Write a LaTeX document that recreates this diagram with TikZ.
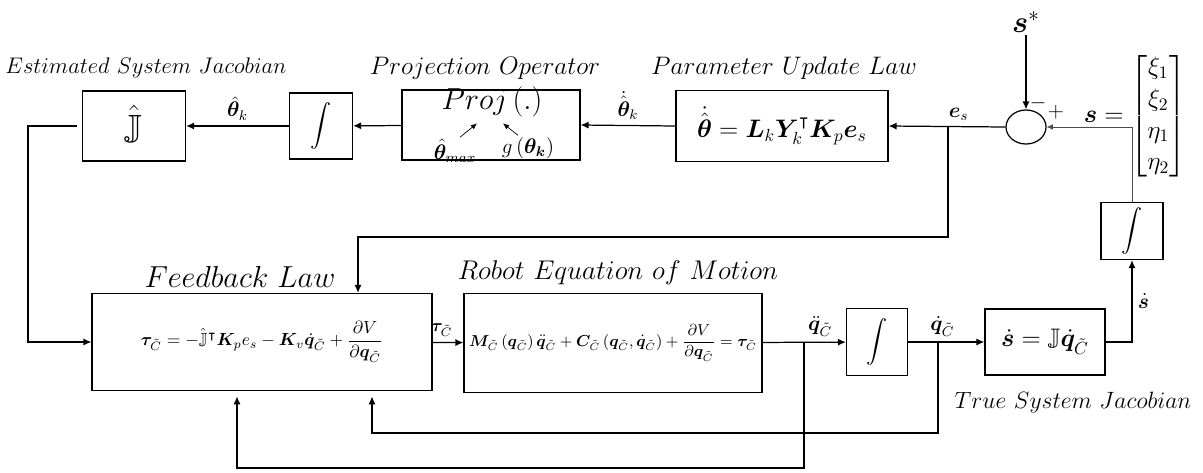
\documentclass[tikz,border=0pt]{standalone}
\usepackage{amsmath,amssymb,bm}
\usetikzlibrary{arrows.meta,positioning,shapes.geometric}

\begin{document}
\begin{tikzpicture}[x=0.2mm,y=-0.2mm,
        box/.style={rectangle,draw,line width=0.7pt,align=center,inner sep=2pt},
        intbox/.style={box,font=\large},
        title/.style={inner sep=0pt},
        lbl/.style={font=\large,inner sep=3pt},
        arrow/.style={-{Latex[length=4.5pt,width=4pt]},line width=0.7pt},
        thinarrow/.style={-{Latex[length=3.5pt,width=3pt]},line width=0.4pt}]
        \useasboundingbox (0,0) rectangle (1203,472);
        % top row
        \node[box,minimum width=20.6mm,minimum height=14mm] (jhat) at (134,126) {\huge$\hat{\mathbb{J}}$};
        \node[intbox,minimum width=12.6mm,minimum height=13.2mm] (int1) at (321,126) {$\displaystyle\int$};
        \node[box,minimum width=35.6mm,minimum height=14mm] (proj) at (491,125) {};
        \node[font=\LARGE] (projop) at (492,102) {$Proj\,(.)$};
        \node[font=\large,inner sep=1pt] (thmax) at (455,151) {$\hat{\bm\theta}_{max}$};
        \node[font=\large,inner sep=1pt] (gth) at (528,148) {$g\,(\bm\theta_{\bm k})$};
        \node[box,minimum width=42.4mm,minimum height=14.2mm,font=\Large] (param) at (782,126)
          {$\dot{\hat{\bm\theta}} = \bm L_k \bm Y^{\intercal}_k \bm K_p \bm e_s$};
        \node[draw,ellipse,line width=0.7pt,minimum width=8mm,minimum height=6.8mm,inner sep=0pt] (sum) at (1026,127) {};
        \node[font=\LARGE,inner sep=1pt] (sstar) at (1026,22) {$\bm s^*$};
        \node[font=\large,inner sep=0pt] (minus) at (1038,103) {$-$};
        \node[font=\large,inner sep=0pt] (plus) at (1056,112) {$+$};
        \node[font=\Large] (svec) at (1135,116)
          {$\bm s = \begin{bmatrix}\xi_1\\ \xi_2\\ \eta_1\\ \eta_2\end{bmatrix}$};
        % bottom row
        \node[box,minimum width=68mm,minimum height=19.4mm,font=\normalsize] (fb) at (262,342)
          {$\bm\tau_{\tilde C} = -\hat{\mathbb{J}}^{\intercal}\bm K_p e_s - \bm K_v \dot{\bm q}_{\tilde C} + \dfrac{\partial V}{\partial \bm q_{\tilde C}}$};
        \node[box,minimum width=59.6mm,minimum height=19.8mm,font=\small] (robot) at (613,343)
          {$\bm M_{\tilde C}\left(\bm q_{\tilde C}\right)\ddot{\bm q}_{\tilde C} + \bm C_{\tilde C}\left(\bm q_{\tilde C},\dot{\bm q}_{\tilde C}\right) + \dfrac{\partial V}{\partial \bm q_{\tilde C}} = \bm\tau_{\tilde C}$};
        \node[intbox,minimum width=12.2mm,minimum height=13.4mm] (int2) at (877,342) {$\displaystyle\int$};
        \node[box,minimum width=24mm,minimum height=13.2mm,font=\Large] (truej) at (1045,342)
          {$\dot{\bm s} = \mathbb{J}\dot{\bm q}_{\tilde C}$};
        \node[intbox,minimum width=12.4mm,minimum height=11.4mm] (int3) at (1132,231) {$\displaystyle\int$};
        % titles
        \node[title,font=\large,scale=1.07] (estT) at (146,68) {$Estimated\ System\ Jacobian$};
        \node[title,font=\Large] (projT) at (485,68) {$Projection\ Operator$};
        \node[title,font=\Large] (paramT) at (784,68) {$Parameter\ Update\ Law$};
        \node[title,font=\LARGE] (fbT) at (240,277) {$Feedback\ Law$};
        \node[title,font=\Large,scale=1.07] (robT) at (618,273) {$Robot\ Equation\ of\ Motion$};
        \node[title,font=\large,scale=1.12] (trueT) at (1073,403) {$True\ System\ Jacobian$};
        % connectors
        \coordinate (esplit) at (948,127);
        \coordinate (esbend) at (358,237);
        \coordinate (jleft) at (28,126);
        \coordinate (qddsplit) at (804,342);
        \coordinate (qddlow) at (237,468);
        \coordinate (qdsplit) at (938,342);
        \coordinate (qdlow) at (372,433);
        \draw[arrow] (sstar) -- (sum.north);
        \draw[arrow] (sum.west) -- node[lbl,above,pos=0.4] {$\bm e_s$} (param.east);
        \draw[arrow] (esplit) |- (esbend) -- (esbend |- fb.north);
        \draw[arrow] (param.west) -- node[lbl,above] {$\dot{\hat{\bm\theta}}_k$} (proj.east);
        \draw[arrow] (proj) -- (int1);
        \draw[arrow] (int1) -- node[lbl,above] {$\hat{\bm\theta}_k$} (jhat);
        \draw[thinarrow] ([xshift=1mm]thmax.north) -- ([xshift=-3mm]projop.south);
        \draw[thinarrow] ([xshift=-2mm]gth.north) -- ([xshift=2.2mm]projop.south);
        \draw[arrow,shorten <=3pt] (jhat.west) -- (jleft) |- (fb.west);
        \draw[arrow] (fb) -- node[lbl,above,font=\normalsize,pos=0.3] {$\bm\tau_{\tilde C}$} (robot);
        \draw[arrow] (robot) -- node[lbl,above,pos=0.69] {$\ddot{\bm q}_{\tilde C}$} (int2);
        \draw[arrow,shorten >=3pt] (qddsplit) |- (qddlow) -- (qddlow |- fb.south);
        \draw[arrow] (int2) -- node[lbl,above,pos=0.45] {$\dot{\bm q}_{\tilde C}$} (truej);
        \draw[arrow,shorten >=3pt] (qdsplit) |- (qdlow) -- (qdlow |- fb.south);
        \draw[arrow] (truej.east) -| node[lbl,right,pos=0.75] {$\dot{\bm s}$} (int3.south);
        \draw[thinarrow,black!70] (int3.north) |- (sum.east);
      \end{tikzpicture}
\end{document}
